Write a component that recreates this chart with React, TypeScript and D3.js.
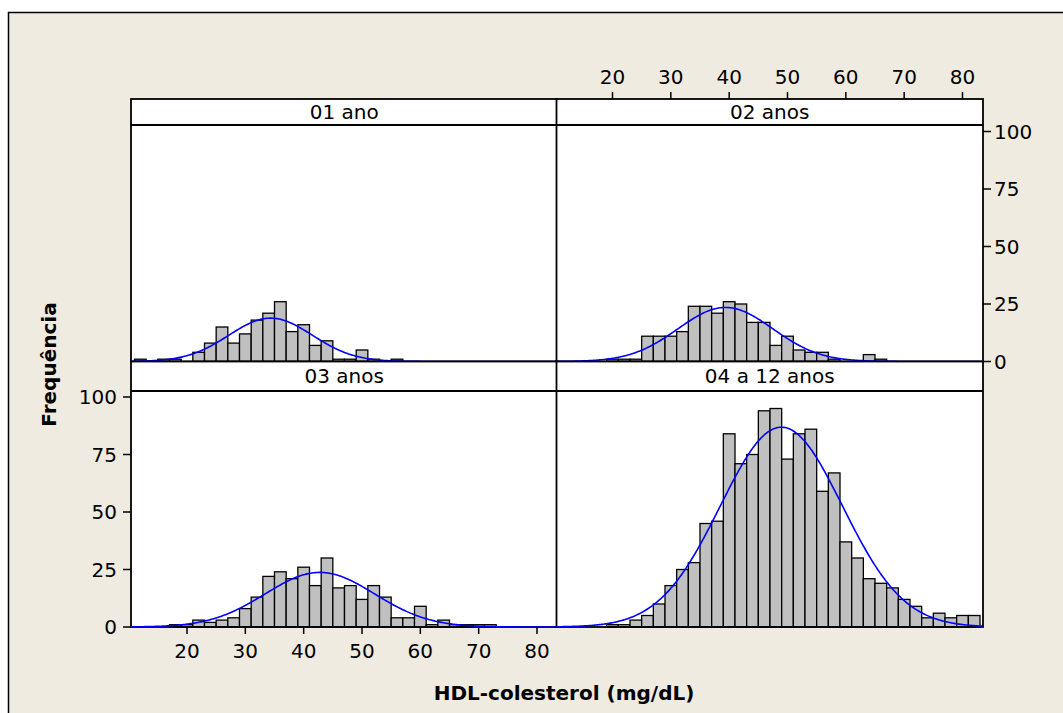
import React from "react";
import * as d3 from "d3";

// histogram bins (mid points, width 2 mg/dL)
const binMids = [
  12, 14, 16, 18, 20, 22, 24, 26, 28, 30, 32, 34, 36, 38, 40, 42, 44, 46,
  48, 50, 52, 54, 56, 58, 60, 62, 64, 66, 68, 70, 72, 74, 76, 78, 80, 82,
];

const counts01 = [
  1, 0, 1, 1, 0, 4, 8, 15, 8, 12, 18, 21, 26, 13, 16, 7, 9, 1,
  1, 5, 1, 0, 1, 0, 0, 0, 0, 0, 0, 0, 0, 0, 0, 0, 0, 0,
];
const counts02 = [
  0, 0, 0, 0, 1, 1, 1, 11, 11, 11, 13, 24, 24, 21, 26, 25, 17, 17,
  7, 11, 5, 4, 4, 1, 0, 0, 3, 1, 0, 0, 0, 0, 0, 0, 0, 0,
];
const counts03 = [
  0, 0, 0, 1, 1, 3, 2, 3, 4, 8, 13, 22, 24, 21, 26, 18, 30, 17,
  18, 12, 18, 13, 4, 4, 9, 1, 3, 1, 1, 1, 1, 0, 0, 0, 0, 0,
];
const counts04 = [
  0, 0, 0, 0, 1, 1, 3, 5, 10, 18, 25, 28, 45, 46, 84, 71, 75, 94,
  95, 73, 84, 86, 59, 67, 37, 30, 21, 19, 17, 12, 9, 4, 6, 4, 5, 5,
];

const panelTitles = ["01 ano", "02 anos", "03 anos", "04 a 12 anos"];
const panelCounts = [counts01, counts02, counts03, counts04];
const xTicks = [20, 30, 40, 50, 60, 70, 80];
const yTicks = [0, 25, 50, 75, 100];
const binWidth = 2;

const W = 1063;
const H = 713;
const FONT = "DejaVu Sans, Verdana, sans-serif";
const colX = [131, 556.5];
const colW = 426.5;
const rows = [
  { top: 99, head: 125, base: 361.5 },
  { top: 361.5, head: 391, base: 627 },
];

const xFor = (c: number) =>
  d3.scaleLinear().domain([20, 80]).range([colX[c] + 56, colX[c] + 406]);
const yFor = (r: number) =>
  d3.scaleLinear().domain([0, 100]).range([rows[r].base, rows[r].base - 230]);

// normal fit from the binned data
function fit(counts: number[]) {
  const n = d3.sum(counts);
  const mean = d3.sum(counts, (c, i) => c * binMids[i]) / n;
  const ss = d3.sum(counts, (c, i) => c * (binMids[i] - mean) ** 2);
  const sd = Math.sqrt(ss / (n - 1));
  return { n, mean, sd };
}

const Panel = ({ idx }: { idx: number }) => {
  const c = idx % 2;
  const r = Math.floor(idx / 2);
  const x = xFor(c);
  const y = yFor(r);
  const counts = panelCounts[idx];
  const { n, mean, sd } = fit(counts);
  const x0 = colX[c];
  const row = rows[r];

  const vs = d3.range(x.invert(x0), x.invert(x0 + colW), 0.2);
  const curve = d3
    .line<number>()
    .x((v) => x(v))
    .y((v) => {
      const z = (v - mean) / sd;
      const dens = Math.exp(-0.5 * z * z) / (sd * Math.sqrt(2 * Math.PI));
      return y(n * binWidth * dens);
    });

  return (
    <g>
      <rect x={x0} y={row.top} width={colW} height={row.base - row.top} fill="#fff" />
      {counts.map((cnt, i) =>
        cnt > 0 ? (
          <rect
            key={i}
            x={x(binMids[i] - binWidth / 2)}
            y={y(cnt)}
            width={x(binMids[i] + binWidth / 2) - x(binMids[i] - binWidth / 2)}
            height={row.base - y(cnt)}
            fill="#c0c0c0"
            stroke="#000"
            strokeWidth={1.3}
          />
        ) : null
      )}
      <rect
        x={x0}
        y={row.top}
        width={colW}
        height={row.base - row.top}
        fill="none"
        stroke="#000"
        strokeWidth={1.8}
      />
      <line x1={x0} x2={x0 + colW} y1={row.head} y2={row.head} stroke="#000" strokeWidth={1.8} />
      <text
        x={x0 + colW / 2}
        y={(row.top + row.head) / 2}
        dy="0.36em"
        textAnchor="middle"
        fontSize={20}
        fontFamily={FONT}
      >
        {panelTitles[idx]}
      </text>
      <path d={curve(vs) || ""} fill="none" stroke="#0000ff" strokeWidth={1.6} />
    </g>
  );
};

const App = () => {
  const xTop = xFor(1);
  const xBottom = xFor(0);
  const yTop = yFor(0);
  const yBottom = yFor(1);

  return (
    <svg
      width={W}
      height={H}
      style={{ position: "absolute", left: 0, top: 0, background: "#fff" }}
      fontFamily={FONT}
    >
      <rect x={8.5} y={12.5} width={W + 10} height={H + 10} fill="#efebe1" stroke="#000" strokeWidth={1.5} />

      {[0, 1, 2, 3].map((i) => (
        <Panel key={i} idx={i} />
      ))}

      {/* top x axis over the top-right panel */}
      {xTicks.map((t) => (
        <g key={"xt" + t}>
          <line x1={xTop(t)} x2={xTop(t)} y1={rows[0].top} y2={rows[0].top - 7} stroke="#000" strokeWidth={1.5} />
          <text x={xTop(t)} y={84} textAnchor="middle" fontSize={20}>
            {t}
          </text>
        </g>
      ))}

      {/* bottom x axis under the bottom-left panel */}
      {xTicks.map((t) => (
        <g key={"xb" + t}>
          <line x1={xBottom(t)} x2={xBottom(t)} y1={rows[1].base} y2={rows[1].base + 7} stroke="#000" strokeWidth={1.5} />
          <text x={xBottom(t)} y={658} textAnchor="middle" fontSize={20}>
            {t}
          </text>
        </g>
      ))}

      {/* right y axis for the top row */}
      {yTicks.map((t) => (
        <g key={"yr" + t}>
          <line x1={colX[1] + colW} x2={colX[1] + colW + 8} y1={yTop(t)} y2={yTop(t)} stroke="#000" strokeWidth={1.5} />
          <text x={colX[1] + colW + 11} y={yTop(t)} dy="0.36em" textAnchor="start" fontSize={20}>
            {t}
          </text>
        </g>
      ))}

      {/* left y axis for the bottom row */}
      {yTicks.map((t) => (
        <g key={"yl" + t}>
          <line x1={colX[0]} x2={colX[0] - 8} y1={yBottom(t)} y2={yBottom(t)} stroke="#000" strokeWidth={1.5} />
          <text x={colX[0] - 14} y={yBottom(t)} dy="0.36em" textAnchor="end" fontSize={20}>
            {t}
          </text>
        </g>
      ))}

      <text x={564} y={700} textAnchor="middle" fontSize={20} fontWeight="bold">
        HDL-colesterol (mg/dL)
      </text>
      <text
        transform="translate(56,364.5) rotate(-90)"
        textAnchor="middle"
        fontSize={20}
        fontWeight="bold"
      >
        Frequência
      </text>
    </svg>
  );
};

export default App;
